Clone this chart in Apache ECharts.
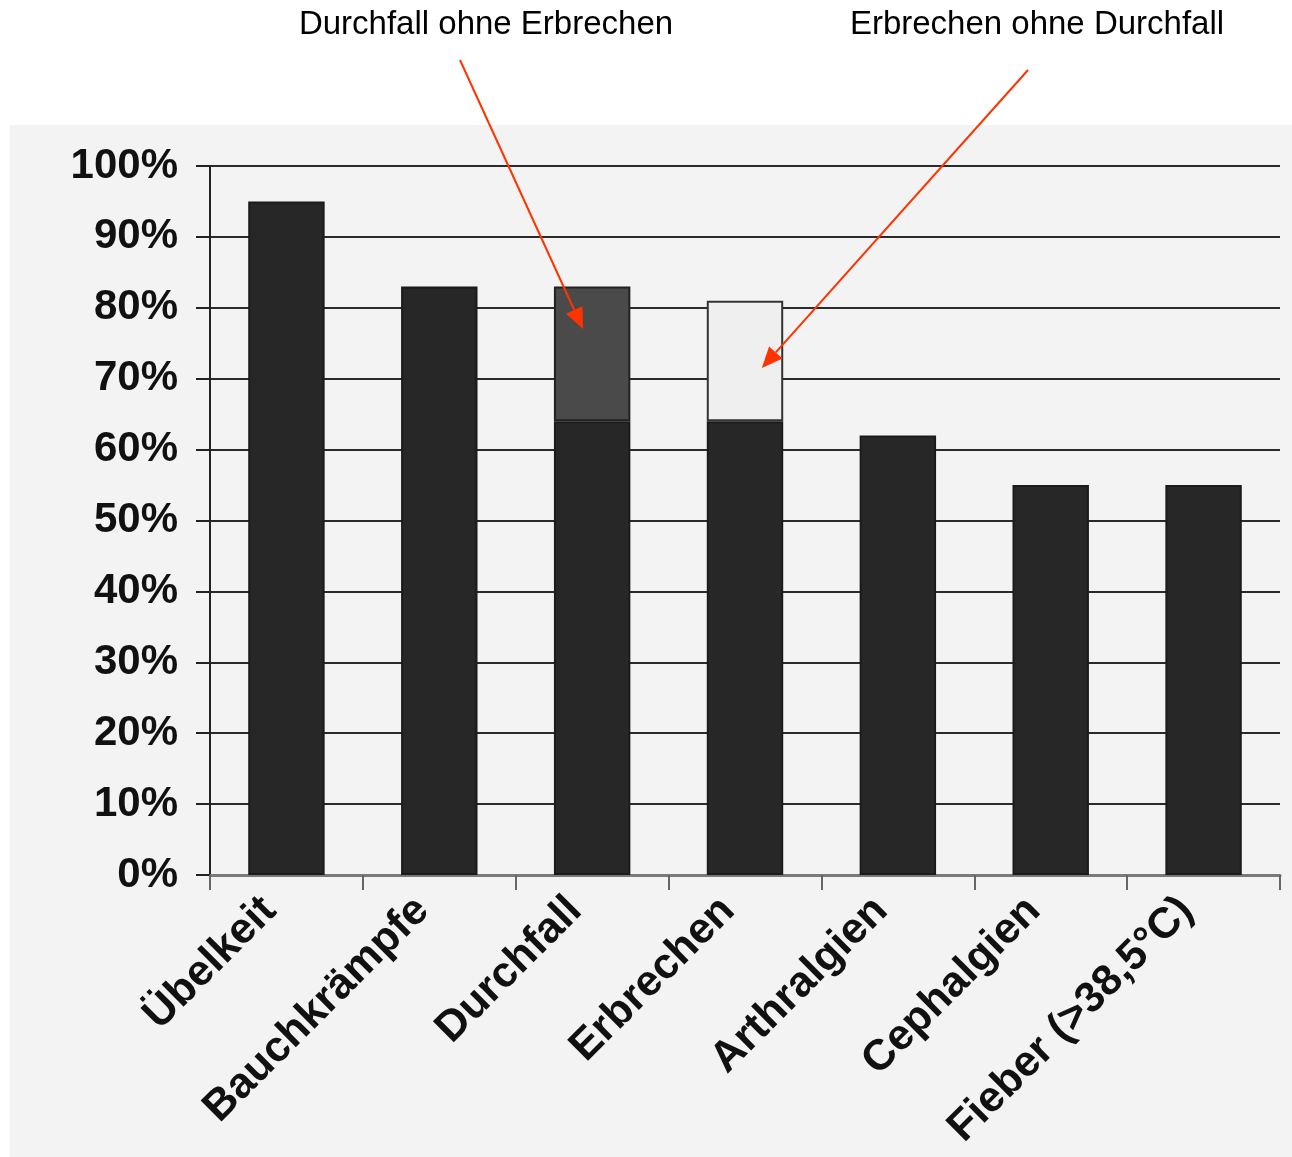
<!DOCTYPE html>
<html>
<head>
<meta charset="utf-8">
<script src="https://cdn.jsdelivr.net/npm/echarts@6/dist/echarts.min.js"></script>
<style>
  html, body { margin: 0; padding: 0; background: #ffffff; }
  #chart { width: 1292px; height: 1157px; }
</style>
</head>
<body>
<div id="chart"></div>
<script>
// Symptom frequencies (%)
const categories = ['Übelkeit', 'Bauchkrämpfe', 'Durchfall', 'Erbrechen', 'Arthralgien', 'Cephalgien', 'Fieber (>38,5°C)'];
const baseValues = [95, 83, 64, 64, 62, 55, 55];
const durchfallOhneErbrechen = ['-', '-', 19, '-', '-', '-', '-'];
const erbrechenOhneDurchfall = ['-', '-', '-', 17, '-', '-', '-'];
const annotationLabels = ['Durchfall ohne Erbrechen', 'Erbrechen ohne Durchfall'];
// where each callout arrow points: [category, value]
const calloutTargets = [['Durchfall', 77], ['Erbrechen', 71.5]];

const FONT = '"Liberation Sans", Arial, Helvetica, sans-serif';
const chart = echarts.init(document.getElementById('chart'), null, { renderer: 'canvas' });

const option = {
  backgroundColor: '#ffffff',
  animation: false,
  grid: { left: 210, right: 12, top: 166, bottom: 282, containLabel: false },
  xAxis: {
    type: 'category',
    data: categories,
    boundaryGap: true,
    axisLine: { show: true, lineStyle: { color: '#7a7a7a', width: 3 } },
    axisTick: { show: true, alignWithLabel: false, length: 15, lineStyle: { color: '#666', width: 2 } },
    axisLabel: {
      rotate: 45, margin: 12, interval: 0, padding: [0, 24, 0, 0],
      color: '#111', fontFamily: FONT, fontWeight: 'bold', fontSize: 43
    },
    splitLine: { show: false }
  },
  yAxis: {
    type: 'value',
    min: 0, max: 100, interval: 10,
    axisLine: { show: true, lineStyle: { color: '#222', width: 2 } },
    axisTick: { show: true, inside: false, length: 14, lineStyle: { color: '#222', width: 2 } },
    axisLabel: {
      formatter: '{value}%', margin: 32, padding: [5, 0, 0, 0],
      color: '#111', fontFamily: FONT, fontWeight: 'bold', fontSize: 42
    },
    splitLine: { show: true, lineStyle: { color: '#2a2a2a', width: 2 } }
  },
  series: [
    {
      name: 'Gesamt', type: 'bar', stack: 'sym', barWidth: '50%',
      data: baseValues,
      itemStyle: { color: '#272727', borderColor: '#1b1b1b', borderWidth: 2 }
    },
    {
      name: annotationLabels[0], type: 'bar', stack: 'sym', barWidth: '50%',
      data: durchfallOhneErbrechen,
      itemStyle: { color: '#4a4a4a', borderColor: '#222', borderWidth: 2 }
    },
    {
      name: annotationLabels[1], type: 'bar', stack: 'sym', barWidth: '50%',
      data: erbrechenOhneDurchfall,
      itemStyle: { color: '#efefef', borderColor: '#333', borderWidth: 2 }
    }
  ]
};
chart.setOption(option);

// Callout arrows with labels
function arrow(from, to, color) {
  const dx = to[0] - from[0], dy = to[1] - from[1];
  const len = Math.hypot(dx, dy);
  const ux = dx / len, uy = dy / len;
  const headLen = 21, headHalf = 9;
  const bx = to[0] - ux * headLen, by = to[1] - uy * headLen;
  return [
    { type: 'line', shape: { x1: from[0], y1: from[1], x2: bx, y2: by },
      style: { stroke: color, lineWidth: 2 }, z: 100 },
    { type: 'polygon', shape: { points: [
        to,
        [bx - uy * headHalf, by + ux * headHalf],
        [bx + uy * headHalf, by - ux * headHalf]
      ] }, style: { fill: color }, z: 100 }
  ];
}

const catW = chart.convertToPixel({ xAxisIndex: 0 }, categories[1]) - chart.convertToPixel({ xAxisIndex: 0 }, categories[0]);
const tip1 = chart.convertToPixel({ xAxisIndex: 0, yAxisIndex: 0 }, calloutTargets[0]);
const tip2 = chart.convertToPixel({ xAxisIndex: 0, yAxisIndex: 0 }, calloutTargets[1]);
tip1[0] -= catW * 0.06;
tip2[0] += catW * 0.11;

const red = '#ff3300';
chart.setOption({
  graphic: [
    { type: 'rect', shape: { x: 10, y: 125, width: 1282, height: 1032 },
      style: { fill: '#f3f3f3' }, z: -100, silent: true },
    { type: 'text', x: 486, y: 25, z: 100,
      style: { text: annotationLabels[0], fill: '#000', font: '33px ' + FONT, align: 'center', verticalAlign: 'middle' } },
    { type: 'text', x: 1037, y: 25, z: 100,
      style: { text: annotationLabels[1], fill: '#000', font: '33px ' + FONT, align: 'center', verticalAlign: 'middle' } },
    ...arrow([460, 60], tip1, red),
    ...arrow([1028, 70], tip2, red)
  ]
});
</script>
</body>
</html>
